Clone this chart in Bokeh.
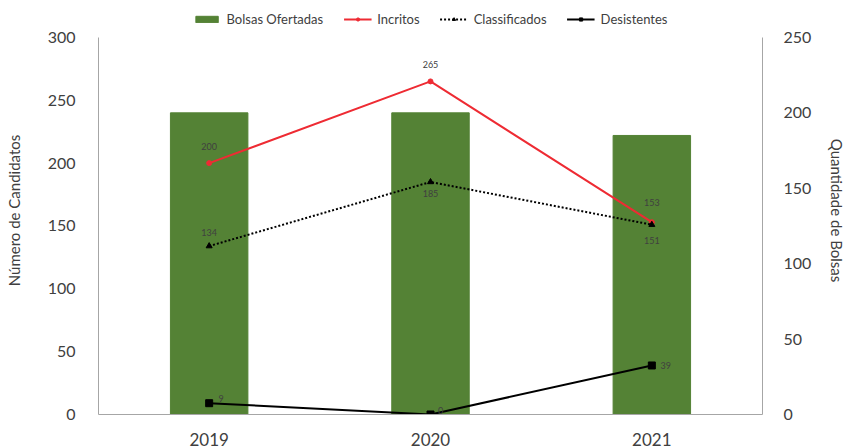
from bokeh.plotting import figure
from bokeh.models import (Range1d, LinearAxis, SingleIntervalTicker, Legend, LegendItem,
                          ColumnDataSource, FactorRange)
from bokeh.core.properties import value
from bokeh.embed import file_html
from bokeh.resources import INLINE

# ---- data ----
years = ["2019", "2020", "2021"]
bolsas_ofertadas = [200, 200, 185]
incritos = [200, 265, 153]
classificados = [134, 185, 151]
desistentes = [9, 0, 39]
left_max = 300
right_max = 250

FONT = "Lato"
GREEN = "#548235"
RED = "#EE2B33"
TXT = "#404040"
AX = "#A6A6A6"

# frame extends above the axes' top so the legend can sit inside it
FRAME_H = 409
AXIS_H = 378
head = FRAME_H / AXIS_H

p = figure(width=849, height=448, x_range=FactorRange(*years),
           y_range=Range1d(0, left_max * head),
           output_backend="svg", toolbar_location=None,
           min_border_left=98, min_border_right=86, min_border_top=6, min_border_bottom=33)
p.extra_y_ranges = {"bolsas": Range1d(0, right_max * head)}
p.outline_line_color = None
p.xgrid.grid_line_color = None
p.ygrid.grid_line_color = None
p.x_range.range_padding = 0.0

bars = p.vbar(x=years, top=bolsas_ofertadas, width=0.35, color=GREEN, y_range_name="bolsas")
l1 = p.line(years, incritos, color=RED, line_width=2)
m1 = p.scatter(years, incritos, color=RED, size=5, marker="circle")
l2 = p.line(years, classificados, color="black", line_width=2, line_dash="2 2")
m2 = p.scatter(years, classificados, color="black", size=6, marker="triangle")
l3 = p.line(years, desistentes, color="black", line_width=2)
m3 = p.scatter(years, desistentes, color="black", size=7, marker="square")

def labels(vals, dx, dy):
    src = ColumnDataSource(dict(x=years, y=vals, t=[str(v) for v in vals], dx=dx, dy=dy))
    p.text(x="x", y="y", text="t", source=src, x_offset="dx", y_offset="dy",
           text_font=value(FONT), text_font_size="9px", text_color=TXT,
           text_align="center", text_baseline="middle")

labels(incritos, [0, 0, 0], [-17, -17, -20])
labels(classificados, [0, 0, 0], [-14, 12, 16])
labels(desistentes, [12, 10, 14], [-5, -4, 0])

# axes
p.yaxis.ticker = SingleIntervalTicker(interval=50)
p.yaxis.axis_label = "Número de Candidatos"
p.yaxis.bounds = (0, left_max)
ax_r = LinearAxis(y_range_name="bolsas", ticker=SingleIntervalTicker(interval=50),
                  axis_label="Quantidade de Bolsas", bounds=(0, right_max))
p.add_layout(ax_r, "right")

for ax in [p.xaxis[0], p.yaxis[0], ax_r]:
    ax.axis_line_color = AX
    ax.major_tick_line_color = None
    ax.minor_tick_line_color = None
    ax.major_label_text_font = FONT
    ax.major_label_text_font_size = "16px"
    ax.major_label_text_color = TXT
    ax.axis_label_text_font = FONT
    ax.axis_label_text_font_size = "15px"
    ax.axis_label_text_font_style = "normal"
    ax.axis_label_text_color = TXT
p.xaxis[0].major_label_text_font_size = "17px"

p.yaxis[0].major_label_standoff = 17
p.yaxis[0].axis_label_standoff = 22
ax_r.major_label_standoff = 15
ax_r.axis_label_standoff = 14
p.xaxis[0].major_label_standoff = 12

legend = Legend(items=[
    LegendItem(label="Bolsas Ofertadas", renderers=[bars]),
    LegendItem(label="Incritos", renderers=[l1, m1]),
    LegendItem(label="Classificados", renderers=[l2, m2]),
    LegendItem(label="Desistentes", renderers=[l3, m3]),
], orientation="horizontal", location="top_center", border_line_color=None,
    background_fill_alpha=0, label_text_font=FONT, label_text_font_size="13px",
    label_text_color=TXT, glyph_width=28, glyph_height=8, spacing=20, padding=2,
    label_standoff=6, margin=5)
p.add_layout(legend, "center")

open("out.html", "w").write(file_html(p, INLINE))
